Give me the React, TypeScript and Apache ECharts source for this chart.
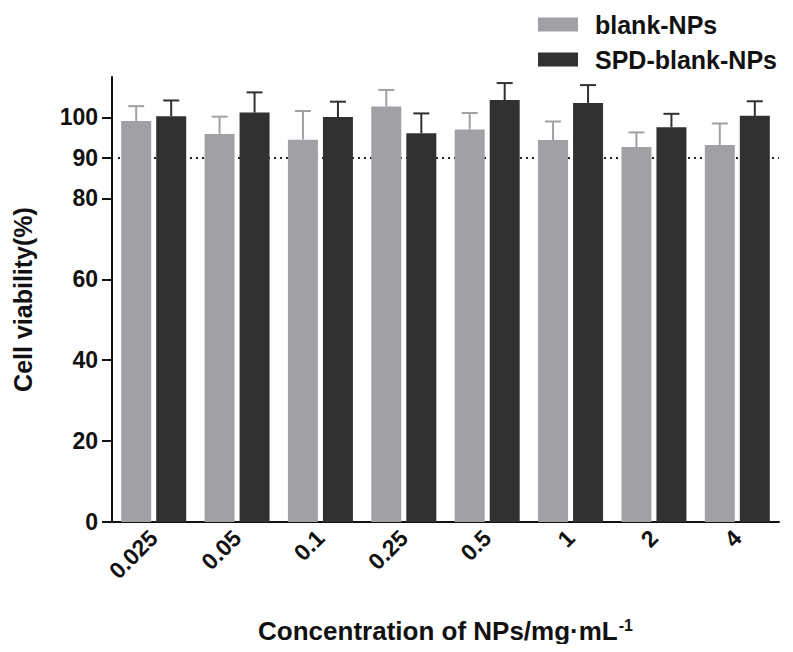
import React, { useEffect, useRef } from "react";
import * as echarts from "echarts";

const categories = ["0.025", "0.05", "0.1", "0.25", "0.5", "1", "2", "4"];
const blankValues = [99.1, 95.9, 94.5, 102.7, 97.0, 94.4, 92.7, 93.2];
const blankErrors = [3.7, 4.3, 7.1, 4.1, 4.1, 4.6, 3.6, 5.3];
const spdValues = [100.3, 101.2, 100.1, 96.1, 104.3, 103.6, 97.6, 100.4];
const spdErrors = [3.9, 5.0, 3.8, 4.9, 4.2, 4.4, 3.3, 3.6];
const yTickValues = [0, 20, 40, 60, 80, 90, 100];
const thresholdValue = 90;

const FONT = "'Liberation Sans', Arial, Helvetica, sans-serif";
const GRAY = "#a1a1a5";
const DARK = "#313131";
const BAR_W = 30;
const BAR_GAP_PX = 5;

function errorSeries(name: string, values: number[], errors: number[], color: string, side: number) {
  return {
    type: "custom",
    name: name + "-err",
    z: 3,
    silent: true,
    tooltip: { show: false },
    data: values.map((v, i) => [i, v, v + errors[i]]),
    renderItem: (params: any, api: any) => {
      const base = api.coord([api.value(0), api.value(1)]);
      const top = api.coord([api.value(0), api.value(2)]);
      const x = base[0] + side * (BAR_W + BAR_GAP_PX) / 2;
      const cap = 8;
      return {
        type: "group",
        children: [
          { type: "line", shape: { x1: x, y1: base[1], x2: x, y2: top[1] }, style: { stroke: color, lineWidth: 2 } },
          { type: "line", shape: { x1: x - cap, y1: top[1], x2: x + cap, y2: top[1] }, style: { stroke: color, lineWidth: 2 } },
        ],
      };
    },
  };
}

export default function App() {
  const ref = useRef<HTMLDivElement>(null);
  useEffect(() => {
    if (!ref.current) return;
    const chart = echarts.init(ref.current, undefined, { renderer: "svg" });
    chart.setOption({
      animation: false,
      backgroundColor: "#ffffff",
      legend: {
        orient: "vertical",
        left: 533,
        top: 7,
        itemWidth: 40,
        itemHeight: 14,
        itemGap: 10,
        icon: "rect",
        data: ["blank-NPs", "SPD-blank-NPs"],
        textStyle: { fontFamily: FONT, fontWeight: "bold", fontSize: 25, color: "#111", lineHeight: 22, padding: [0, 0, 0, 12] },
      },
      grid: { left: 112, right: 14, top: 77, bottom: 130, containLabel: false },
      xAxis: {
        type: "category",
        data: categories,
        boundaryGap: true,
        axisLine: { lineStyle: { color: "#111", width: 2 } },
        axisTick: { alignWithLabel: true, length: 10, lineStyle: { color: "#111", width: 2 } },
        axisLabel: { interval: 0, rotate: 45, margin: 12, fontFamily: FONT, fontWeight: "bold", fontSize: 23, color: "#111" },
        name: "Concentration of NPs/mg·mL{sup|-1}",
        nameLocation: "middle",
        nameGap: 95,
        nameTextStyle: {
          fontFamily: FONT,
          fontWeight: "bold",
          fontSize: 26,
          color: "#111",
          rich: { sup: { fontFamily: FONT, fontWeight: "bold", fontSize: 16, color: "#111", verticalAlign: "top", padding: [0, 0, 12, 1] } },
        },
      },
      yAxis: {
        type: "value",
        min: 0,
        max: 110,
        interval: 10,
        splitLine: { show: false },
        axisLine: { show: true, lineStyle: { color: "#111", width: 2 } },
        axisTick: { show: true, length: 10, customValues: yTickValues, lineStyle: { color: "#111", width: 2 } },
        axisLabel: { customValues: yTickValues, margin: 14, fontFamily: FONT, fontWeight: "bold", fontSize: 23, color: "#111" },
        name: "Cell viability(%)",
        nameLocation: "middle",
        nameGap: 77,
        nameTextStyle: { fontFamily: FONT, fontWeight: "bold", fontSize: 25, color: "#111" },
      },
      series: [
        {
          type: "custom",
          name: "threshold",
          z: 1,
          silent: true,
          data: [[0, thresholdValue]],
          renderItem: (params: any, api: any) => {
            const cs = params.coordSys;
            const p = api.coord([0, api.value(1)]);
            return {
              type: "line",
              shape: { x1: cs.x + 6, y1: p[1], x2: cs.x + cs.width, y2: p[1] },
              style: { stroke: "#222", lineWidth: 2, lineDash: [2, 4] },
            };
          },
        },
        {
          type: "bar",
          name: "blank-NPs",
          z: 2,
          data: blankValues,
          barWidth: BAR_W,
          barGap: ((BAR_GAP_PX / BAR_W) * 100).toFixed(1) + "%",
          itemStyle: { color: GRAY },
        },
        {
          type: "bar",
          name: "SPD-blank-NPs",
          z: 2,
          data: spdValues,
          barWidth: BAR_W,
          barGap: ((BAR_GAP_PX / BAR_W) * 100).toFixed(1) + "%",
          itemStyle: { color: DARK },
        },
        errorSeries("blank-NPs", blankValues, blankErrors, GRAY, -1),
        errorSeries("SPD-blank-NPs", spdValues, spdErrors, DARK, 1),
      ],
    });
    return () => chart.dispose();
  }, []);
  return <div ref={ref} style={{ width: 793, height: 652, margin: -8 }} />;
}
